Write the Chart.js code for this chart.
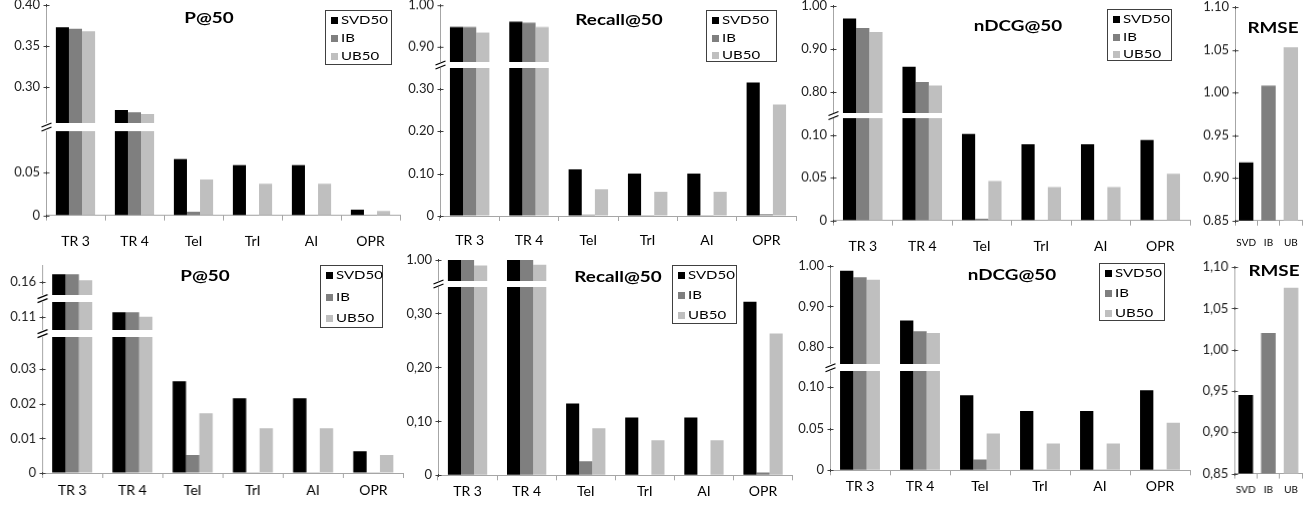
<!DOCTYPE html>
<html>
<head>
<meta charset="utf-8">
<script src="https://cdn.jsdelivr.net/npm/chart.js@4.4.0/dist/chart.umd.min.js"></script>
<style>
  body { margin:0; background:#fff; width:1307px; height:510px; overflow:hidden; position:relative; font-family:Lato, sans-serif; }
  .seg { position:absolute; }
  .ttl { position:absolute; font-weight:bold; font-size:14.5px; transform:translate(-50%,-50%) scaleX(1.3); white-space:nowrap; color:#000; }
  .lg { position:absolute; border:1px solid #404040; background:#fff; box-sizing:border-box; color:#000; }
  .lg i { position:absolute; left:5px; width:7px; height:7px; }
  .lg b { position:absolute; left:15px; height:16px; line-height:16px; font-weight:normal; font-size:12px; white-space:nowrap; transform:scaleX(1.25); transform-origin:left center; }
</style>
</head>
<body>
<script>
// categories and series
const categories = ['TR 3', 'TR 4', 'TeI', 'TrI', 'AI', 'OPR'];
const seriesNames = ['SVD50', 'IB', 'UB50'];
const seriesColors = ['#000000', '#7f7f7f', '#bfbfbf'];
const rmseCategories = ['SVD', 'IB', 'UB'];

// upper row
const pAtSvd  = [0.373, 0.272, 0.066, 0.059, 0.059, 0.0067];
const pAtIb   = [0.371, 0.269, 0.0044, 0.0003, 0.0003, 0.0003];
const pAtUb   = [0.368, 0.267, 0.042, 0.037, 0.037, 0.0052];
const recSvd  = [0.947, 0.960, 0.110, 0.100, 0.100, 0.315];
const recIb   = [0.947, 0.958, 0.003, 0.002, 0.002, 0.004];
const recUb   = [0.934, 0.947, 0.063, 0.057, 0.057, 0.263];
const ndcgSvd = [0.971, 0.859, 0.101, 0.089, 0.089, 0.094];
const ndcgIb  = [0.949, 0.824, 0.002, 0.0005, 0.0005, 0.0005];
const ndcgUb  = [0.940, 0.816, 0.046, 0.039, 0.039, 0.0545];
const rmse    = [0.918, 1.008, 1.053];

// lower row
const pAtSvd2  = [0.1623, 0.1114, 0.0265, 0.0216, 0.0216, 0.0063];
const pAtIb2   = [0.1623, 0.1114, 0.0052, 0.0001, 0.0001, 0.0001];
const pAtUb2   = [0.1606, 0.1101, 0.0173, 0.0129, 0.0129, 0.0052];
const recSvd2  = [1.000, 1.000, 0.133, 0.107, 0.107, 0.3215];
const recIb2   = [1.000, 1.000, 0.026, 0.001, 0.001, 0.005];
const recUb2   = [0.990, 0.991, 0.087, 0.065, 0.065, 0.263];
const ndcgSvd2 = [0.988, 0.865, 0.090, 0.071, 0.071, 0.096];
const ndcgIb2  = [0.972, 0.838, 0.013, 0.0005, 0.0005, 0.0005];
const ndcgUb2  = [0.966, 0.834, 0.044, 0.032, 0.032, 0.057];
const rmse2    = [0.945, 1.020, 1.075];

// y tick values (labels formatted with '.' or ',')
const pAtTicksHi   = [0.30, 0.35, 0.40];
const pAtTicksLo   = [0, 0.05];
const recTicksHi   = [0.90, 1.00];
const recTicksLo   = [0, 0.10, 0.20, 0.30];
const ndcgTicksHi  = [0.80, 0.90, 1.00];
const ndcgTicksLo  = [0, 0.05, 0.10];
const rmseTicks    = [0.85, 0.90, 0.95, 1.00, 1.05, 1.10];
const pAtTicks2Top = [0.16];
const pAtTicks2Mid = [0.11];
const pAtTicks2Lo  = [0, 0.01, 0.02, 0.03];
const recTicks2Hi  = [1.00];

const W = 40, T = 10, H = 36;
const AXIS = '#a6a6a6';

function fmt(v, sep) {
  return v === 0 ? '0' : v.toFixed(2).replace('.', sep);
}

// y axis line, cross ticks and break mark
const crossTicks = {
  id: 'crossTicks',
  afterDraw(chart, args, opts) {
    const y = chart.scales.y, ctx = chart.ctx, a = chart.chartArea;
    const x0 = Math.round(a.left) + 0.5;
    ctx.save();
    ctx.strokeStyle = AXIS;
    ctx.lineWidth = 1;
    ctx.beginPath(); ctx.moveTo(x0, a.top); ctx.lineTo(x0, a.bottom); ctx.stroke();
    ctx.strokeStyle = '#404040';
    y.ticks.forEach(t => {
      const py = Math.round(y.getPixelForValue(t.value)) + 0.5;
      ctx.beginPath(); ctx.moveTo(x0 - 3, py); ctx.lineTo(x0 + 3, py); ctx.stroke();
      ctx.beginPath(); ctx.moveTo(x0, py - 1.5); ctx.lineTo(x0, py + 1.5); ctx.stroke();
    });
    if (opts.brk) {
      const by = a.top - opts.brk;
      ctx.strokeStyle = '#000';
      ctx.lineWidth = 1.2;
      [-2, 2].forEach(o => {
        ctx.beginPath(); ctx.moveTo(x0 - 5, by + o + 2); ctx.lineTo(x0 + 5, by + o - 2); ctx.stroke();
      });
    }
    ctx.restore();
  }
};

function segment(p, s, idx) {
  const last = idx === p.segs.length - 1;
  const prev = idx > 0 ? p.segs[idx - 1] : null;
  const span = p.xEnd - p.axisX;
  const wrap = document.createElement('div');
  wrap.className = 'seg';
  wrap.style.left = (p.axisX - W) + 'px';
  wrap.style.top = (s.top - T) + 'px';
  wrap.style.width = (W + span + 3) + 'px';
  wrap.style.height = (T + (s.bottom - s.top) + (last ? H : 0)) + 'px';
  const canvas = document.createElement('canvas');
  wrap.appendChild(canvas);
  document.body.appendChild(wrap);

  const datasets = p.rmse
    ? [{ data: p.series, backgroundColor: seriesColors, barPercentage: 1, categoryPercentage: 0.645 }]
    : p.series.map((d, i) => ({ label: seriesNames[i], data: d, backgroundColor: seriesColors[i], barPercentage: 1, categoryPercentage: 0.665 }));

  new Chart(canvas, {
    type: 'bar',
    data: { labels: p.cats, datasets },
    plugins: [crossTicks],
    options: {
      responsive: true,
      maintainAspectRatio: false,
      animation: false,
      layout: { padding: { top: T, right: 3, left: 0, bottom: 0 } },
      plugins: {
        legend: { display: false },
        tooltip: { enabled: false },
        crossTicks: { brk: prev ? (s.top - prev.bottom) / 2 : 0 }
      },
      scales: {
        x: {
          display: last,
          offset: true,
          grid: { offset: true, drawOnChartArea: false, tickLength: 5, color: AXIS },
          border: { color: AXIS },
          ticks: { font: { family: 'Lato', size: p.rmse ? 10 : 14 }, color: '#000', padding: p.labelPad, maxRotation: 0, autoSkip: false },
          afterFit: sc => { sc.height = last ? H : 0; sc.paddingLeft = 0; sc.paddingRight = 0; }
        },
        y: {
          min: s.min,
          max: s.max,
          border: { display: false },
          grid: { drawOnChartArea: false, drawTicks: false },
          ticks: { font: { family: 'Lato', size: 13 }, color: '#222', padding: 6, callback: v => fmt(v, s.sep || p.sep) },
          afterBuildTicks: sc => { sc.ticks = s.ticks.map(v => ({ value: v })); },
          afterFit: sc => { sc.width = W; sc.paddingTop = 0; sc.paddingBottom = 0; }
        }
      }
    }
  });
}

function addTitle(t) {
  const d = document.createElement('div');
  d.className = 'ttl';
  d.textContent = t.text;
  d.style.left = t.x + 'px';
  d.style.top = t.y + 'px';
  document.body.appendChild(d);
}

function addLegend(l) {
  const d = document.createElement('div');
  d.className = 'lg';
  Object.assign(d.style, { left: l.x + 'px', top: l.y + 'px', width: l.w + 'px', height: l.h + 'px' });
  seriesNames.forEach((n, i) => {
    const sq = document.createElement('i');
    sq.style.top = (l.rows[i] - 4) + 'px';
    sq.style.background = seriesColors[i];
    const tx = document.createElement('b');
    tx.style.top = (l.rows[i] - 9) + 'px';
    tx.textContent = n;
    d.appendChild(sq);
    d.appendChild(tx);
  });
  document.body.appendChild(d);
}

const panels = [
  { axisX: 46, xEnd: 400, cats: categories, series: [pAtSvd, pAtIb, pAtUb], sep: '.', labelPad: 12,
    segs: [ { top: 5, bottom: 123, min: 0.256, max: 0.40, ticks: pAtTicksHi },
            { top: 131, bottom: 214.7, min: 0, max: 0.0987, ticks: pAtTicksLo } ],
    title: { text: 'P@50', x: 209, y: 17 }, legend: { x: 325, y: 10, w: 67, h: 55, rows: [10, 28, 46] } },
  { axisX: 440, xEnd: 796, cats: categories, series: [recSvd, recIb, recUb], sep: '.', labelPad: 11,
    segs: [ { top: 5, bottom: 61.7, min: 0.861, max: 1.00, ticks: recTicksHi },
            { top: 67.7, bottom: 215.7, min: 0, max: 0.349, ticks: recTicksLo } ],
    title: { text: 'Recall@50', x: 619, y: 19 }, legend: { x: 706, y: 10, w: 71, h: 52, rows: [10, 28, 45] } },
  { axisX: 833, xEnd: 1190, cats: categories, series: [ndcgSvd, ndcgIb, ndcgUb], sep: '.', labelPad: 12,
    segs: [ { top: 6, bottom: 113.3, min: 0.7513, max: 1.00, ticks: ndcgTicksHi },
            { top: 118.3, bottom: 220, min: 0, max: 0.1196, ticks: ndcgTicksLo } ],
    title: { text: 'nDCG@50', x: 1018, y: 25 }, legend: { x: 1107, y: 9, w: 65, h: 52, rows: [10, 28, 45] } },
  { axisX: 1235, xEnd: 1302, cats: rmseCategories, series: rmse, rmse: true, sep: '.', labelPad: 11,
    segs: [ { top: 7.3, bottom: 220, min: 0.85, max: 1.10, ticks: rmseTicks } ],
    title: { text: 'RMSE', x: 1273, y: 27 } },

  { axisX: 42.3, xEnd: 402.7, cats: categories, series: [pAtSvd2, pAtIb2, pAtUb2], sep: '.', labelPad: 4,
    segs: [ { top: 265, bottom: 295, min: 0.1563, max: 0.1650, ticks: pAtTicks2Top },
            { top: 301.7, bottom: 330, min: 0.1062, max: 0.1143, ticks: pAtTicks2Mid },
            { top: 336.7, bottom: 472.7, min: 0, max: 0.0393, ticks: pAtTicks2Lo } ],
    title: { text: 'P@50', x: 205, y: 275 }, legend: { x: 320, y: 265, w: 63, h: 63, rows: [10, 32, 53] } },
  { axisX: 437.7, xEnd: 792.3, cats: categories, series: [recSvd2, recIb2, recUb2], sep: ',', labelPad: 3,
    segs: [ { top: 259.5, bottom: 280.7, min: 0.9607, max: 1.00, ticks: recTicks2Hi, sep: '.' },
            { top: 286.7, bottom: 475, min: 0, max: 0.349, ticks: recTicksLo } ],
    title: { text: 'Recall@50', x: 618, y: 276 }, legend: { x: 672, y: 265, w: 65, h: 59, rows: [10, 30, 50] } },
  { axisX: 830, xEnd: 1190, cats: categories, series: [ndcgSvd2, ndcgIb2, ndcgUb2], sep: '.', labelPad: 3,
    segs: [ { top: 265.5, bottom: 364.3, min: 0.755, max: 1.00, ticks: ndcgTicksHi },
            { top: 370.7, bottom: 470, min: 0, max: 0.119, ticks: ndcgTicksLo } ],
    title: { text: 'nDCG@50', x: 1012, y: 274 }, legend: { x: 1099, y: 263, w: 66, h: 58, rows: [10, 30, 50] } },
  { axisX: 1234.3, xEnd: 1301.7, cats: rmseCategories, series: rmse2, rmse: true, sep: ',', labelPad: 5,
    segs: [ { top: 266.7, bottom: 473.3, min: 0.85, max: 1.10, ticks: rmseTicks } ],
    title: { text: 'RMSE', x: 1274, y: 270 } }
];

panels.forEach(p => {
  p.segs.forEach((s, i) => segment(p, s, i));
  addTitle(p.title);
  if (p.legend) addLegend(p.legend);
});
</script>
</body>
</html>
